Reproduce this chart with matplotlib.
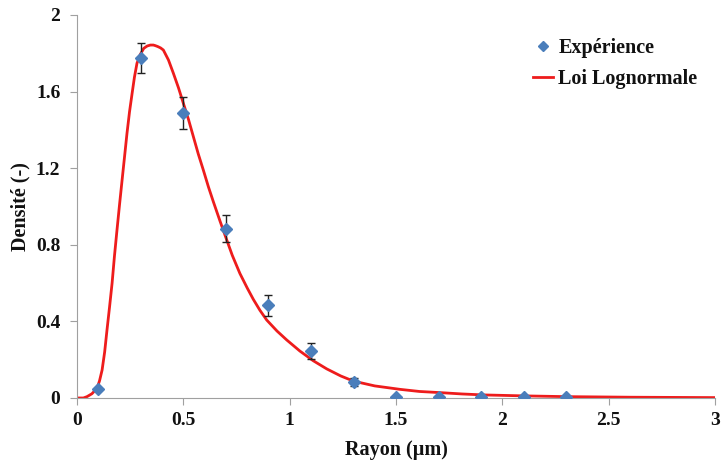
import matplotlib
matplotlib.use("Agg")
import matplotlib.pyplot as plt

# experimental points (mean radius in um, density, error)
rayon_exp = [0.1, 0.3, 0.5, 0.7, 0.9, 1.1, 1.3, 1.5, 1.7, 1.9, 2.1, 2.3]
dens_exp = [0.045, 1.775, 1.49, 0.885, 0.485, 0.245, 0.083, 0.005, 0.004, 0.004, 0.004, 0.004]
err_exp = [0.0, 0.08, 0.083, 0.073, 0.055, 0.04, 0.02, 0.0, 0.0, 0.0, 0.0, 0.0]

# lognormal curve
rayon_fit = [0.0, 0.03, 0.047, 0.07, 0.094, 0.106, 0.118, 0.13, 0.141, 0.153, 0.165,
             0.176, 0.188, 0.2, 0.212, 0.224, 0.235, 0.247, 0.259, 0.27, 0.282,
             0.298, 0.314, 0.33, 0.345, 0.359, 0.368, 0.38, 0.393, 0.406, 0.43,
             0.453, 0.477, 0.5, 0.524, 0.547, 0.57, 0.594, 0.618, 0.641, 0.672,
             0.696, 0.73, 0.766, 0.8, 0.829, 0.86, 0.892, 0.94, 0.986, 1.048,
             1.11, 1.174, 1.24, 1.3, 1.4, 1.519, 1.61, 1.707, 1.81, 1.91, 2.1,
             2.3, 2.6, 3.0]
dens_fit = [0.0, 0.0, 0.007, 0.022, 0.05, 0.09, 0.146, 0.24, 0.355, 0.475, 0.60,
            0.74, 0.877, 1.01, 1.138, 1.265, 1.382, 1.495, 1.59, 1.675, 1.748,
            1.795, 1.826, 1.838, 1.843, 1.843, 1.84, 1.835, 1.828, 1.817, 1.765,
            1.696, 1.62, 1.539, 1.455, 1.365, 1.275, 1.19, 1.102, 1.025, 0.925,
            0.85, 0.745, 0.65, 0.575, 0.515, 0.458, 0.407, 0.35, 0.303, 0.245,
            0.195, 0.152, 0.115, 0.088, 0.063, 0.045, 0.034, 0.028, 0.021, 0.016, 0.011,
            0.007, 0.004, 0.002]

plt.rcParams["font.family"] = ["Liberation Serif", "DejaVu Serif"]
plt.rcParams["font.weight"] = "bold"

fig = plt.figure(figsize=(7.21, 4.61), dpi=100)
ax = fig.add_axes([0.1068, 0.1367, 0.885, 0.8308])

ax.plot(rayon_fit, dens_fit, color="#ee1c1c", lw=2, label="Loi Lognormale",
        solid_joinstyle="round", zorder=2)
ax.errorbar(rayon_exp, dens_exp, yerr=err_exp, fmt="none", ecolor="#222222",
            elinewidth=1, capsize=3, capthick=1, zorder=3)
ax.plot(rayon_exp, dens_exp, "D", color="#4a7ebb", ms=6.5, ls="none",
        label="Expérience", zorder=4)

ax.set_xlim(0, 3)
ax.set_ylim(0, 2)
ax.set_xticks([0, 0.5, 1, 1.5, 2, 2.5, 3])
ax.set_xticklabels(["0", "0.5", "1", "1.5", "2", "2.5", "3"])
ax.set_yticks([0, 0.4, 0.8, 1.2, 1.6, 2])
ax.set_yticklabels(["0", "0.4", "0.8", "1.2", "1.6", "2"])

for s in ["top", "right"]:
    ax.spines[s].set_visible(False)
for s in ["left", "bottom"]:
    ax.spines[s].set_color("#a0a0a0")
ax.tick_params(colors="#a0a0a0", length=5, labelcolor="#111111", labelsize=14)
ax.tick_params(axis="y", pad=7)
ax.tick_params(axis="x", pad=5)

ax.set_xlabel("Rayon (µm)", fontsize=14.5, fontweight="bold", color="#111111", labelpad=8)
ax.set_ylabel("Densité (-)", fontsize=14.5, fontweight="bold", color="#111111", labelpad=4)

handles, labels = ax.get_legend_handles_labels()
leg = ax.legend(handles[::-1], labels[::-1], loc="upper left", frameon=False,
                fontsize=14.5, handlelength=1.0, handletextpad=0.25,
                bbox_to_anchor=(0.7147, 0.94), borderaxespad=0, borderpad=0,
                labelspacing=0.55, markerscale=0.85)
for t in leg.get_texts():
    t.set_color("#111111")

fig.savefig("out.png", dpi=100)
